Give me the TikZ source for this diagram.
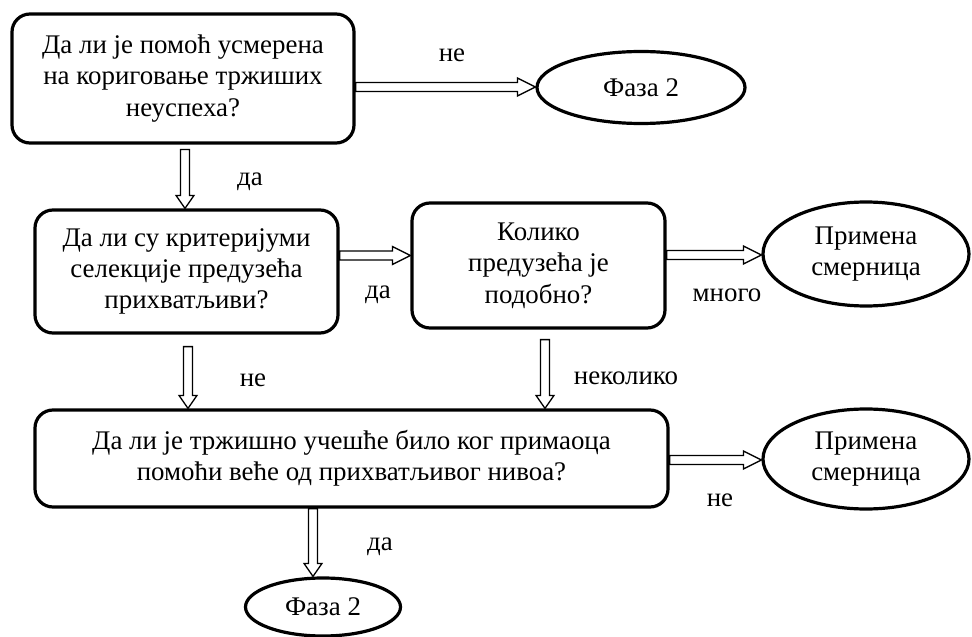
\documentclass[tikz,border=0pt]{standalone}
\usepackage{fontspec}
\setmainfont{Liberation Serif}
\usetikzlibrary{shapes.geometric,calc}
\tikzset{
  txt/.style={font=\fontsize{27}{31.5}\selectfont},
  box/.style={txt, draw, line width=3.2bp, rounded corners=18bp, align=center, inner sep=0pt},
  oval/.style={txt, draw, ellipse, line width=3.2bp, align=center, inner sep=0pt},
  lbl/.style={txt, inner sep=0pt},
  barrow/.style={draw, line width=1.3bp, fill=white, line join=miter}
}
\newcommand\raisedtwo[2]{\raisebox{6bp}{\begin{tabular}{@{}c@{}}#1\\#2\end{tabular}}}
% horizontal block arrow (rightwards), y taken from the start point
\newcommand\harrow[2]{%
  \draw[barrow] let \p1=(#1), \p2=(#2) in
    (\x1,\y1+4.5pt) -- (\x2-18pt,\y1+4.5pt) -- (\x2-18pt,\y1+9pt) -- (\x2,\y1)
    -- (\x2-18pt,\y1-9pt) -- (\x2-18pt,\y1-4.5pt) -- (\x1,\y1-4.5pt) -- cycle;}
% vertical block arrow (downwards), x taken from the start point
\newcommand\varrow[2]{%
  \draw[barrow] let \p1=(#1), \p2=(#2) in
    (\x1-4.5pt,\y1) -- (\x1-4.5pt,\y2+13pt) -- (\x1-9pt,\y2+13pt) -- (\x1,\y2)
    -- (\x1+9pt,\y2+13pt) -- (\x1+4.5pt,\y2+13pt) -- (\x1+4.5pt,\y1) -- cycle;}
\begin{document}
\begin{tikzpicture}[x=1bp,y=-1bp]
\useasboundingbox (0,0) rectangle (972,637);

\node[box, minimum width=342bp, minimum height=129bp] (b1) at (183,78.5)
  {Да ли је помоћ усмерена\\на кориговање тржиших\\неуспеха?};
\node[oval, minimum width=208bp, minimum height=72bp] (e1) at (641,87.5) {Фаза 2};
\node[box, minimum width=303bp, minimum height=123bp] (b2) at (186.5,271.5)
  {Да ли су критеријуми\\селекције предузећа\\прихватљиви?};
\node[box, minimum width=253bp, minimum height=125bp] (b3) at (538.5,265.5)
  {Колико\\предузећа је\\подобно?};
\node[oval, minimum width=206bp, minimum height=104bp] (e2) at (866,254)
  {\raisedtwo{Примена}{смерница}};
\node[box, minimum width=633bp, minimum height=97bp] (b4) at (351.5,458.5)
  {Да ли је тржишно учешће било ког примаоца\\помоћи веће од прихватљивог нивоа?};
\node[oval, minimum width=206bp, minimum height=100bp] (e3) at (866,459)
  {\raisedtwo{Примена}{смерница}};
\node[oval, minimum width=155bp, minimum height=58bp] (e4) at (323,607) {Фаза 2};

\harrow{[yshift=-8.5bp]b1.east}{e1.west}
\harrow{[yshift=16bp]b2.east}{b3.west}
\harrow{[yshift=10.5bp]b3.east}{e2.west}
\harrow{[yshift=-1.5bp]b4.east}{e3.west}

\varrow{[yshift=-5bp,xshift=2bp]b1.south}{b2.north}
\varrow{[yshift=-12bp,xshift=1.5bp]b2.south}{b4.north}
\varrow{[yshift=-10bp,xshift=6.5bp]b3.south}{b4.north}
\varrow{[xshift=-38.5bp]b4.south}{e4.north}

\node[lbl] (l1) at (452,55) {не};
\node[lbl] (l2) at (250,182) {да};
\node[lbl] (l3) at (378,295) {да};
\node[lbl] (l4) at (727,295) {много};
\node[lbl] (l5) at (253,380) {не};
\node[lbl] (l6) at (626,378) {неколико};
\node[lbl] (l7) at (720,500) {не};
\node[lbl] (l8) at (380,547) {да};
\end{tikzpicture}
\end{document}
